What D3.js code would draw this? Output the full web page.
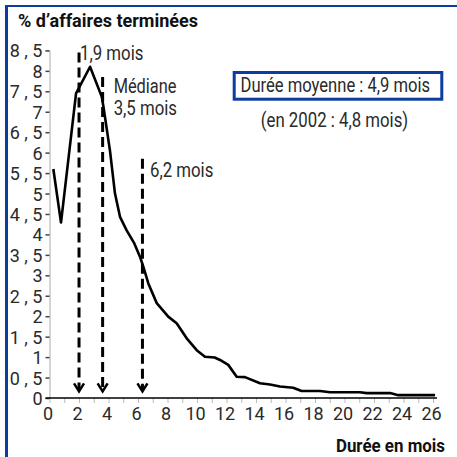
<!DOCTYPE html>
<html>
<head>
<meta charset="utf-8">
<script src="https://cdn.jsdelivr.net/npm/d3@7"></script>
<style>
body { margin: 0; background: #fff; }
text { font-family: Roboto, "Liberation Sans", sans-serif; }
</style>
</head>
<body>
<svg id="chart" width="457" height="457"></svg>
<script>
// months (x) and share of closed cases in % (y)
var months = [0.26, 0.78, 1.8, 2.75, 3.54, 3.65, 4.1, 4.44, 4.78, 5.23, 5.75, 6.14, 6.36, 6.7,
    7.27, 8.05, 8.62, 9.3, 9.98, 10.54, 11.2, 11.56, 12.12, 12.69, 13.25, 14.27, 14.95, 15.63,
    16.52, 17.09, 18.34, 19.02, 21.05, 21.5, 23.09, 23.65, 26.14]
var values = [5.6, 4.29, 7.45, 8.1, 7.37, 7.14, 6.05, 5.0, 4.43, 4.1, 3.78, 3.45, 3.21, 2.8,
    2.32, 1.99, 1.83, 1.46, 1.17, 1.01, 0.99, 0.93, 0.81, 0.52, 0.51, 0.36, 0.33, 0.28,
    0.25, 0.17, 0.17, 0.14, 0.14, 0.12, 0.12, 0.07, 0.07]

var yTicks = [0, 0.5, 1, 1.5, 2, 2.5, 3, 3.5, 4, 4.5, 5, 5.5, 6, 6.5, 7, 7.5, 8, 8.5]
var xTicks = d3.range(0, 27)

// dashed markers: position in months, top value of the line, label
var markers = [
    {m: 1.9, top: 8.45, label: "1,9 mois"},
    {m: 3.5, top: 7.85, label: "3,5 mois"},
    {m: 6.2, top: 5.85, label: "6,2 mois"}
]

var svg = d3.select("#chart")
var blue = "#0b3d9c", ink = "#2a2a2a"

var x = d3.scaleLinear().domain([0, 26]).range([49.5, 433])
var y = d3.scaleLinear().domain([0, 8.5]).range([398, 50.4])

// narrow text: the original uses a condensed face, so squeeze Roboto a bit
function label(str, px, py, size, sx, anchor, weight) {
    return svg.append("text")
        .attr("transform", "translate(" + px + "," + py + ") scale(" + sx + ",1)")
        .attr("font-size", size)
        .attr("font-weight", weight || "normal")
        .attr("text-anchor", anchor || "start")
        .attr("fill", ink)
        .text(str)
}

// frame
svg.append("line").attr("x1", 5).attr("x2", 457).attr("y1", 6).attr("y2", 6)
    .attr("stroke", blue).attr("stroke-width", 2)
svg.append("line").attr("x1", 6.5).attr("x2", 6.5).attr("y1", 5).attr("y2", 457)
    .attr("stroke", blue).attr("stroke-width", 3)

// y axis
var yAxis = svg.append("g")
    .attr("transform", "translate(" + x(0) + ",0)")
    .call(d3.axisLeft(y)
        .tickValues(yTicks)
        .tickSize(4)
        .tickPadding(3)
        .tickFormat(d => d % 1 ? String(d).replace(".", " , ") : d))
yAxis.select(".domain").attr("stroke", "#aaa")
yAxis.selectAll(".tick line").attr("stroke", "#444").attr("stroke-width", 1.5)
yAxis.selectAll(".tick text")
    .attr("fill", ink).attr("font-size", 18).attr("dy", "0.36em")

// x axis
var xAxis = svg.append("g")
    .attr("transform", "translate(0," + y(0) + ")")
    .call(d3.axisBottom(x)
        .tickValues(xTicks)
        .tickSize(5)
        .tickPadding(4)
        .tickFormat(d => d % 2 ? "" : d))
xAxis.select(".domain").remove()
xAxis.selectAll(".tick line").attr("stroke", "#bbb")
xAxis.selectAll(".tick text")
    .attr("fill", ink).attr("font-size", 18).attr("dx", -2)
svg.append("line")
    .attr("x1", x(0) - 4).attr("x2", x(26) + 4)
    .attr("y1", y(0)).attr("y2", y(0))
    .attr("stroke", "#000").attr("stroke-width", 1.5)

// curve
var line = d3.line()
    .x((d, i) => x(months[i]))
    .y(d => y(d))
svg.append("path")
    .datum(values)
    .attr("d", line)
    .attr("fill", "none")
    .attr("stroke", "#000")
    .attr("stroke-width", 2.6)
    .attr("stroke-linejoin", "round")

// dashed arrows
var mk = svg.append("g").selectAll("g").data(markers).enter().append("g")
mk.append("line")
    .attr("x1", d => x(d.m) + 1.5).attr("x2", d => x(d.m) + 1.5)
    .attr("y1", d => y(d.top)).attr("y2", y(0.2))
    .attr("stroke", "#000").attr("stroke-width", 3)
    .attr("stroke-dasharray", "10,5")
mk.append("path")
    .attr("d", d => {
        var cx = x(d.m) + 1.5, cy = y(0.16)
        return "M" + (cx - 5) + "," + (cy - 8) + "L" + cx + "," + cy + "L" + (cx + 5) + "," + (cy - 8)
    })
    .attr("fill", "none").attr("stroke", "#000").attr("stroke-width", 2.5)

// marker labels
label(markers[0].label, x(1.9) + 2.5, 60, 20, 0.84)
label("Médiane", x(3.5) + 12.5, 92.7, 20, 0.82)
label(markers[1].label, x(3.5) + 12.5, 115, 20, 0.84)
label(markers[2].label, x(6.2) + 9, 176.7, 20, 0.84)

// average box
svg.append("rect").attr("x", 234.2).attr("y", 72.5).attr("width", 207.6).attr("height", 26.7)
    .attr("fill", "#fff").attr("stroke", blue).attr("stroke-width", 3)
label("Durée moyenne : 4,9 mois", 240.5, 92, 20, 0.83)
label("(en 2002 : 4,8 mois)", 334.5, 127, 20, 0.84, "middle")

// titles
label("% d’affaires terminées", 18, 27, 18, 1, "start", "bold").attr("fill", "#111")
label("Durée en mois", 445, 452, 18, 0.94, "end", "bold").attr("fill", "#111")
</script>
</body>
</html>
